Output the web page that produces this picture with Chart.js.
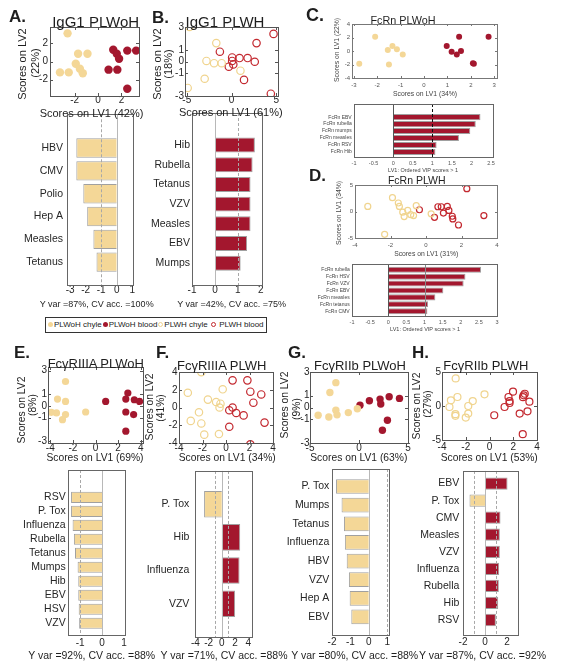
<!DOCTYPE html>
<html>
<head>
<meta charset="utf-8">
<script src="https://cdn.jsdelivr.net/npm/chart.js@4"></script>
<style>
  body { margin: 0; background: #fff; }
  #fig { position: relative; width: 568px; height: 666px; overflow: hidden; font-family: "Liberation Sans", Arial, sans-serif; }
  #fig canvas { position: absolute; }
  .t { position: absolute; white-space: nowrap; line-height: 1; color: #1e1e1e; }
  .legend { position: absolute; border: 1px solid #333; font-size: 8px; line-height: 14px; white-space: nowrap; padding-left: 1px; color: #222; }
  .m { display: inline-block; width: 5px; height: 5px; border-radius: 50%; margin: 0 1px 0 1px; vertical-align: 0px; }
  .m.o { width: 3px; height: 3px; border: 1.2px solid; background: none; }
</style>
</head>
<body>
<div id="fig">
  <div class="legend" style="left:45px;top:317px;width:219px;height:14px;"><span class="m" style="background:#f4d797"></span>PLWoH chyle<span class="m" style="background:#a3172e"></span>PLWoH blood<span class="m o" style="border-color:#f0d48e"></span>PLWH chyle <span class="m o" style="border-color:#c3282f"></span> PLWH blood</div>
</div>
<script>
// ---- scores on [LV1, LV2] for each group ----
const igg1PlwohChyle = [[-2.6,3.1],[-1.7,0.85],[-0.9,0.85],[-1.9,-0.25],[-3.25,-1.2],[-2.5,-1.2],[-1.55,-0.8],[-1.3,-1.3]];
const igg1PlwohBlood = [[1.3,1.3],[1.6,0.85],[1.8,0.3],[0.9,-0.9],[1.65,-0.9],[2.5,1.2],[3.25,1.2],[2.5,-3.0]];
const igg1PlwhChyle = [[-4.7,3.0],[-1.7,1.6],[-2.8,0.05],[-1.95,-0.15],[-1.1,-0.15],[-3.0,-1.5],[-4.9,-2.3],[1.0,-0.8]];
const igg1PlwhBlood = [[2.8,1.6],[0.07,0.35],[0.07,0.05],[0.2,-0.25],[-0.3,-0.45],[0.9,0.3],[1.8,0.3],[2.6,-0.02],[1.4,-1.6],[-1.3,0.85],[4.7,2.4],[4.4,-2.8]];
const fcrnPlwohChyle = [[-2.09,2.1],[-2.77,-1.9],[-1.55,0.15],[-1.35,0.75],[-1.16,0.25],[-0.91,-0.5],[-1.5,-2.0]];
const fcrnPlwohBlood = [[0.97,0.75],[1.18,-0.1],[1.4,-0.5],[1.58,0.0],[1.5,2.1],[2.09,-1.8],[2.13,-1.9],[2.76,2.1]];
const fcrnPlwhChyle = [[-3.28,0.96],[-1.89,2.6],[-1.56,1.6],[-1.5,0.96],[-1.31,-0.13],[-1.23,-0.96],[-1.03,0.22],[-0.86,-0.6],[-0.7,-0.77],[-0.55,1.1],[-2.33,-4.3],[0.29,-0.44]];
const fcrnPlwhBlood = [[-0.37,0.33],[0.48,-1.1],[0.67,0.9],[0.86,0.9],[1.2,0.96],[0.98,-0.3],[1.29,0.2],[1.48,-0.9],[1.51,-1.4],[1.83,-2.55],[2.3,4.3],[3.26,-0.77]];
const fcgr3aPlwohChyle = [[-2.65,2.07],[-3.36,0.58],[-2.65,0.38],[-3.9,-0.55],[-3.45,-0.6],[-2.65,-0.74],[-2.92,-1.17],[-0.87,-0.52]];
const fcgr3aPlwohBlood = [[0.9,0.38],[2.86,1.09],[2.68,0.58],[3.43,0.52],[3.9,0.38],[2.68,-0.52],[3.37,-0.74],[2.68,-2.15]];
const fcgr3aPlwhChyle = [[-2.1,3.99],[-3.25,1.66],[-0.28,2.05],[-1.54,0.89],[-0.84,0.62],[-0.47,0.43],[-0.55,0.0],[-2.3,-0.54],[-3.0,-1.51],[-2.1,-1.8],[-1.85,-3.06],[-0.6,-2.99]];
const fcgr3aPlwhBlood = [[0.56,3.06],[1.82,3.06],[2.07,1.78],[3.0,1.47],[2.33,0.54],[0.56,0.0],[0.28,-0.31],[0.87,-0.62],[1.5,-0.89],[0.28,-2.17],[3.28,-1.7],[2.07,-4.15]];
const fcgr2bPlwohChyle = [[-2.36,2.1],[-2.97,1.27],[-4.17,-0.65],[-3.08,-0.8],[-2.36,-0.23],[-2.24,-0.62],[-1.09,-0.43],[-0.17,-0.1]];
const fcgr2bPlwohBlood = [[0.1,0.2],[1.06,0.57],[2.15,0.71],[2.22,0.29],[3.08,0.91],[4.13,0.77],[2.9,-1.08],[2.39,-1.92]];
const fcgr2bPlwhChyle = [[-2.85,4.05],[-3.25,0.83],[-2.7,1.32],[-3.37,-0.15],[-2.87,-1.2],[-2.87,-1.45],[-2.0,-1.7],[-1.79,-1.12],[-1.79,0.0],[-1.41,0.73],[-0.42,1.71]];
const fcgr2bPlwhBlood = [[0.4,-1.36],[1.27,-0.15],[1.69,0.73],[1.69,0.44],[1.6,1.32],[1.98,2.1],[2.54,-1.12],[2.88,1.57],[2.82,1.3],[2.97,1.8],[3.36,0.63],[3.2,-0.78],[2.8,-4.15]];

// ---- VIP bars (negative = chyle, positive = blood) ----
const igg1PlwohCats = ['HBV','CMV','Polio','Hep A','Measles','Tetanus'];
const igg1PlwohVip = [-2.6,-2.6,-2.15,-1.9,-1.5,-1.3];
const igg1PlwhCats = ['Hib','Rubella','Tetanus','VZV','Measles','EBV','Mumps'];
const igg1PlwhVip = [1.74,1.64,1.55,1.55,1.55,1.4,1.12];
const fcrnPlwohCats = ['FcRn EBV','FcRn rubella','FcRn mumps','FcRn measles','FcRn RSV','FcRn Hib'];
const fcrnPlwohVip = [2.23,2.11,1.97,1.68,1.11,1.08];
const fcrnPlwhCats = ['FcRn rubella','FcRn HSV','FcRn VZV','FcRn EBV','FcRn measles','FcRn tetanus','FcRn CMV'];
const fcrnPlwhVip = [2.56,2.13,2.08,1.52,1.3,1.1,1.08];
const fcgr3aPlwohCats = ['RSV','P. Tox','Influenza','Rubella','Tetanus','Mumps','Hib','EBV','HSV','VZV'];
const fcgr3aPlwohVip = [-1.42,-1.42,-1.35,-1.29,-1.24,-1.12,-1.09,-1.09,-1.07,-1.05];
const fcgr3aPlwhCats = ['P. Tox','Hib','Influenza','VZV'];
const fcgr3aPlwhVip = [-2.68,2.77,2.67,2.0];
const fcgr2bPlwohCats = ['P. Tox','Mumps','Tetanus','Influenza','HBV','VZV','Hep A','EBV'];
const fcgr2bPlwohVip = [-1.78,-1.48,-1.35,-1.3,-1.2,-1.08,-1.04,-0.95];
const fcgr2bPlwhCats = ['EBV','P. Tox','CMV','Measles','VZV','Influenza','Rubella','Hib','RSV'];
const fcgr2bPlwhVip = [2.05,-1.41,1.41,1.35,1.35,1.29,1.26,1.2,0.99];

const FONT = '"Liberation Sans", Arial, sans-serif';
const CHYLE = '#f4d797', BLOOD = '#a3172e', CHYLE_RING = '#f0d48e', BLOOD_RING = '#c3282f';
const fig = document.getElementById('fig');
Chart.defaults.font.family = FONT;

// box round the plot area, inward tick marks and vertical reference lines
Chart.register({
  id: 'frame',
  afterDatasetsDraw(chart, args, o) {
    const { ctx, chartArea: a, scales } = chart;
    ctx.save();
    ctx.lineWidth = 1;
    (o.refs || []).forEach(r => {
      const x = Math.round(scales.x.getPixelForValue(r.x)) + 0.5;
      ctx.strokeStyle = r.color || '#b0b0b0';
      ctx.setLineDash(r.dash ? [3, 2] : []);
      ctx.beginPath(); ctx.moveTo(x, a.top); ctx.lineTo(x, a.bottom); ctx.stroke();
    });
    ctx.setLineDash([]);
    ctx.strokeStyle = o.color || '#666';
    if (o.tick) {
      const L = o.tick;
      ctx.beginPath();
      scales.x.ticks.forEach(t => {
        const x = Math.round(scales.x.getPixelForValue(t.value)) + 0.5;
        ctx.moveTo(x, a.bottom); ctx.lineTo(x, a.bottom - L);
        ctx.moveTo(x, a.top); ctx.lineTo(x, a.top + L);
      });
      scales.y.ticks.forEach(t => {
        const y = Math.round(scales.y.getPixelForValue(t.value)) + 0.5;
        ctx.moveTo(a.left, y); ctx.lineTo(a.left + L, y);
        ctx.moveTo(a.right, y); ctx.lineTo(a.right - L, y);
      });
      ctx.stroke();
    }
    ctx.strokeRect(Math.round(a.left) + 0.5, Math.round(a.top) + 0.5, Math.round(a.right - a.left), Math.round(a.bottom - a.top));
    ctx.restore();
  }
});

function axis(a, horizontal, size) {
  return {
    type: 'linear', min: a.min, max: a.max, reverse: !!a.reverse, offset: false,
    afterBuildTicks: s => { s.ticks = a.ticks.map(v => ({ value: v })); },
    afterFit: s => { if (horizontal) s.height = size; else s.width = size; },
    grid: { display: false, drawTicks: false },
    border: { display: false },
    ticks: {
      font: { size: a.fs, lineHeight: 1 }, color: a.color || '#262626', padding: a.pad,
      autoSkip: false, maxRotation: 0,
      callback: a.labels ? v => a.labels[v - 1] : v => String(v)
    }
  };
}

function make(o) {
  const PL = 2, PR = 14, PT = 8, PB = 3, b = o.box;
  const w = b.r - b.l + o.yW + PL + PR, h = b.b - b.t + o.xH + PT + PB;
  const c = document.createElement('canvas');
  c.width = w; c.height = h;
  Object.assign(c.style, { left: (b.l - o.yW - PL) + 'px', top: (b.t - PT) + 'px', width: w + 'px', height: h + 'px' });
  fig.appendChild(c);
  return new Chart(c, {
    type: o.type,
    data: { datasets: o.datasets },
    options: {
      responsive: false, animation: false,
      indexAxis: o.type === 'bar' ? 'y' : 'x',
      layout: { padding: { left: PL, right: PR, top: PT, bottom: PB } },
      plugins: { legend: { display: false }, tooltip: { enabled: false }, frame: o.frame || {} },
      scales: { x: axis(o.x, true, o.xH), y: axis(o.y, false, o.yW) }
    }
  });
}

function pts(list) { return list.map(p => ({ x: p[0], y: p[1] })); }

function scatterSets(chyle, blood, filled, r) {
  return [
    { data: pts(chyle), pointRadius: r, backgroundColor: filled ? CHYLE : 'rgba(0,0,0,0)', borderColor: filled ? CHYLE : CHYLE_RING, borderWidth: filled ? 0 : 1.2 },
    { data: pts(blood), pointRadius: r, backgroundColor: filled ? BLOOD : 'rgba(0,0,0,0)', borderColor: filled ? BLOOD : BLOOD_RING, borderWidth: filled ? 0 : 1.2 }
  ];
}

function barSet(vals, bp) {
  return [{
    data: vals.map((v, i) => ({ x: v, y: i + 1 })),
    backgroundColor: vals.map(v => v < 0 ? CHYLE : BLOOD),
    borderColor: '#a0a0a0', borderWidth: 1,
    barPercentage: bp, categoryPercentage: 1
  }];
}

function scatter(box, chyle, blood, filled, r, x, y, small) {
  make({ type: 'scatter', box, datasets: scatterSets(chyle, blood, filled, r), x, y,
         yW: small ? 16 : 28, xH: small ? 12 : 16,
         frame: { color: small ? '#777' : '#555', tick: small ? 2 : 3 } });
}

function barh(box, cats, vals, bp, x, y, refs, small) {
  y.labels = cats; y.ticks = cats.map((c, i) => i + 1); y.reverse = true;
  make({ type: 'bar', box, datasets: barSet(vals, bp), x, y,
         yW: small ? 50 : 70, xH: 18, frame: { color: '#666', refs } });
}

const DASH = '#a8a8a8', ZERO = '#b8b8b8';

// A
scatter({ l: 50, t: 27, r: 139, b: 96 }, igg1PlwohChyle, igg1PlwohBlood, true, 4.2,
  { min: -4.1, max: 3.5, ticks: [-2, 0, 2], fs: 10, pad: -1 },
  { min: -3.8, max: 3.8, ticks: [-2, 0, 2], fs: 10, pad: 2 });
barh({ l: 67, t: 113, r: 133, b: 285 }, igg1PlwohCats, igg1PlwohVip, 0.85,
  { min: -3.2, max: 1.05, ticks: [-3, -2, -1, 0, 1], fs: 10, pad: 0 },
  { min: -0.48, max: 7, fs: 10.5, pad: 4 },
  [{ x: 0, color: ZERO }, { x: -1, dash: true, color: DASH }]);
// B
scatter({ l: 185, t: 27, r: 278, b: 96 }, igg1PlwhChyle, igg1PlwhBlood, false, 3.7,
  { min: -5.2, max: 5.2, ticks: [-5, 0, 5], fs: 10, pad: -1 },
  { min: -3, max: 3, ticks: [-3, -1, 0, 1, 3], fs: 10, pad: 1 });
barh({ l: 192, t: 113, r: 262, b: 285 }, igg1PlwhCats, igg1PlwhVip, 0.76,
  { min: -1, max: 2.05, ticks: [-1, 0, 1, 2], fs: 10, pad: 0 },
  { min: -0.62, max: 8.1, fs: 10.5, pad: 2 },
  [{ x: 0, color: ZERO }, { x: 1, dash: true, color: DASH }]);
// C
scatter({ l: 352, t: 24, r: 497, b: 78 }, fcrnPlwohChyle, fcrnPlwohBlood, true, 3,
  { min: -3.08, max: 3.12, ticks: [-3, -2, -1, 0, 1, 2, 3], fs: 6, pad: 4, color: '#555' },
  { min: -4, max: 4, ticks: [-4, -2, 0, 2, 4], fs: 6, pad: 2, color: '#555' }, true);
barh({ l: 354, t: 104, r: 493, b: 157 }, fcrnPlwohCats, fcrnPlwohVip, 0.87,
  { min: -1, max: 2.55, ticks: [-1, -0.5, 0, 0.5, 1, 1.5, 2, 2.5], fs: 5.5, pad: 4.2, color: '#555' },
  { min: -0.89, max: 6.73, fs: 5, pad: 2.3, color: '#444' },
  [{ x: 0, color: '#555' }, { x: 1, dash: true, color: '#111' }], true);
// D
scatter({ l: 355, t: 185, r: 497, b: 238 }, fcrnPlwhChyle, fcrnPlwhBlood, false, 3,
  { min: -4, max: 4, ticks: [-4, -2, 0, 2, 4], fs: 6, pad: 4, color: '#555' },
  { min: -5, max: 5, ticks: [-5, 0, 5], fs: 6, pad: 2, color: '#555' }, true);
barh({ l: 352, t: 264, r: 497, b: 316 }, fcrnPlwhCats, fcrnPlwhVip, 0.88,
  { min: -1, max: 3, ticks: [-1, -0.5, 0, 0.5, 1, 1.5, 2, 2.5, 3], fs: 5.5, pad: 4.2, color: '#555' },
  { min: 0.16, max: 7.7, fs: 5, pad: 2.3, color: '#444' },
  [{ x: 0, color: '#555' }, { x: 1, color: '#888' }], true);
// E
scatter({ l: 48, t: 367, r: 143, b: 443 }, fcgr3aPlwohChyle, fcgr3aPlwohBlood, true, 3.6,
  { min: -4.2, max: 4.2, ticks: [-4, -2, 0, 2, 4], fs: 10, pad: 0 },
  { min: -3.15, max: 3.3, ticks: [-3, -1, 0, 1, 3], fs: 10, pad: 1 });
barh({ l: 68, t: 470, r: 125, b: 635 }, fcgr3aPlwohCats, fcgr3aPlwohVip, 0.8,
  { min: -1.56, max: 1.05, ticks: [-1, 0, 1], fs: 10, pad: 3.3 },
  { min: -0.95, max: 10.84, fs: 10.5, pad: 2.3 },
  [{ x: 0, color: ZERO }, { x: -1, dash: true, color: DASH }]);
// F
scatter({ l: 179, t: 372, r: 273, b: 443 }, fcgr3aPlwhChyle, fcgr3aPlwhBlood, false, 3.7,
  { min: -4, max: 4, ticks: [-4, -2, 0, 2, 4], fs: 10, pad: 0 },
  { min: -4, max: 4, ticks: [-4, -2, 0, 2, 4], fs: 10, pad: 1.5 });
barh({ l: 195, t: 468, r: 252, b: 637 }, fcgr3aPlwhCats, fcgr3aPlwhVip, 0.8,
  { min: -4.05, max: 4.55, ticks: [-4, -2, 0, 2, 4], fs: 10, pad: 1.3 },
  { min: 0, max: 5, fs: 10.5, pad: 5.7 },
  [{ x: 0, color: ZERO }, { x: -1, dash: true, color: DASH }, { x: 1, dash: true, color: DASH }]);
// G
scatter({ l: 310, t: 372, r: 408, b: 443 }, fcgr2bPlwohChyle, fcgr2bPlwohBlood, true, 3.7,
  { min: -5, max: 5, ticks: [-5, 0, 5], fs: 10, pad: 0 },
  { min: -3, max: 3, ticks: [-3, -1, 0, 1, 3], fs: 10, pad: 0.5 });
barh({ l: 332, t: 469, r: 389, b: 635 }, fcgr2bPlwohCats, fcgr2bPlwohVip, 0.79,
  { min: -2, max: 1.1, ticks: [-2, -1, 0, 1], fs: 10, pad: 2.7 },
  { min: 0.06, max: 8.97, fs: 10.5, pad: 2.7 },
  [{ x: 0, color: ZERO }, { x: 1, dash: true, color: DASH }]);
// H
scatter({ l: 442, t: 372, r: 537, b: 440 }, fcgr2bPlwhChyle, fcgr2bPlwhBlood, false, 3.5,
  { min: -4, max: 4, ticks: [-4, -2, 0, 2, 4], fs: 10, pad: 2.7 },
  { min: -5, max: 5, ticks: [-5, 0, 5], fs: 10, pad: 1 });
barh({ l: 463, t: 470, r: 518, b: 635 }, fcgr2bPlwhCats, fcgr2bPlwhVip, 0.72,
  { min: -2, max: 3, ticks: [-2, 0, 2], fs: 10, pad: 2.7 },
  { min: 0.26, max: 9.88, fs: 10.5, pad: 3.7 },
  [{ x: 0, color: ZERO }, { x: -1, dash: true, color: DASH }, { x: 1, dash: true, color: DASH }]);

// ---- text laid over the charts: x / y are the centre of the text ----
function txt(s, x, y, size, o = {}) {
  const d = document.createElement('div');
  d.className = 't';
  d.textContent = s;
  Object.assign(d.style, { left: x + 'px', top: y + 'px', fontSize: size + 'px' });
  if (o.bold) d.style.fontWeight = 'bold';
  if (o.color) d.style.color = o.color;
  d.style.transform = (o.left ? 'translate(0,-50%)' : 'translate(-50%,-50%)') + (o.rot ? ' rotate(-90deg)' : '');
  fig.appendChild(d);
}
const B = { bold: true, left: true }, R = { rot: true }, G = { color: '#444' }, GR = { color: '#444', rot: true };

txt('A.', 9, 15.6, 17, B);  txt('B.', 152, 16.6, 17, B);
txt('C.', 306, 15.3, 18, B); txt('D.', 309, 174.6, 17, B);
txt('E.', 14, 352.2, 17, B); txt('F.', 156, 352.2, 17, B);
txt('G.', 288, 352.2, 17, B); txt('H.', 412, 352, 17, B);

txt('IgG1 PLWoH', 95.7, 20.8, 15); txt('IgG1 PLWH', 225, 20.6, 15);
txt('FcRn PLWoH', 403, 19.5, 10.8); txt('FcRn PLWH', 416.7, 180.3, 10.5);
txt('FcγRIIIA PLWoH', 95.8, 363.3, 13); txt('FcγRIIIA PLWH', 221.7, 365, 13);
txt('FcγRIIb PLWoH', 360, 365.3, 13); txt('FcγRIIb PLWH', 485.8, 365, 13);

txt('Scores on LV1 (42%)', 91.5, 113, 11);
txt('Scores on LV2', 21.7, 63.5, 11, R); txt('(22%)', 35, 63, 11, R);
txt('Scores on LV1 (61%)', 230.8, 112.3, 11);
txt('Scores on LV2', 156.7, 64, 11, R); txt('(18%)', 168.3, 64, 11, R);
txt('Scores on LV1 (34%)', 425, 94, 6.8, G); txt('Scores on LV1 (22%)', 337.3, 50, 6.8, GR);
txt('LV1: Ordered VIP scores > 1', 423, 171, 5.5, G);
txt('Scores on LV1 (31%)', 426.2, 254, 6.8, G); txt('Scores on LV1 (34%)', 339.3, 212.5, 6.8, GR);
txt('LV1: Ordered VIP scores > 1', 425, 330, 5.5, G);
txt('Scores on LV1 (69%)', 95, 458.3, 10.3);
txt('Scores on LV2', 21.7, 410, 10.3, R); txt('(8%)', 32.5, 405, 10.3, R);
txt('Scores on LV1 (34%)', 227.2, 458.3, 10.3);
txt('Scores on LV2', 150, 406.7, 10.3, R); txt('(41%)', 160.5, 408, 10.3, R);
txt('Scores on LV1 (63%)', 358.8, 458.3, 10.3);
txt('Scores on LV2', 285, 405, 10.3, R); txt('(9%)', 296.7, 409, 10.3, R);
txt('Scores on LV1 (53%)', 489.2, 458, 10.3);
txt('Scores on LV2', 417, 405.5, 10.3, R); txt('(27%)', 427.5, 404, 10.3, R);

txt('Y var =87%, CV acc. =100%', 96.7, 304, 9);
txt('Y var =42%, CV acc. =75%', 231.7, 304, 9);
txt('Y var =92%, CV acc. =88%', 91.7, 655, 10.5);
txt('Y var =71%, CV acc. =88%', 224, 655, 10.5);
txt('Y var =80%, CV acc. =88%', 354.7, 655, 10.5);
txt('Y var =87%, CV acc. =92%', 482.5, 655, 10.5);
</script>
</body>
</html>
